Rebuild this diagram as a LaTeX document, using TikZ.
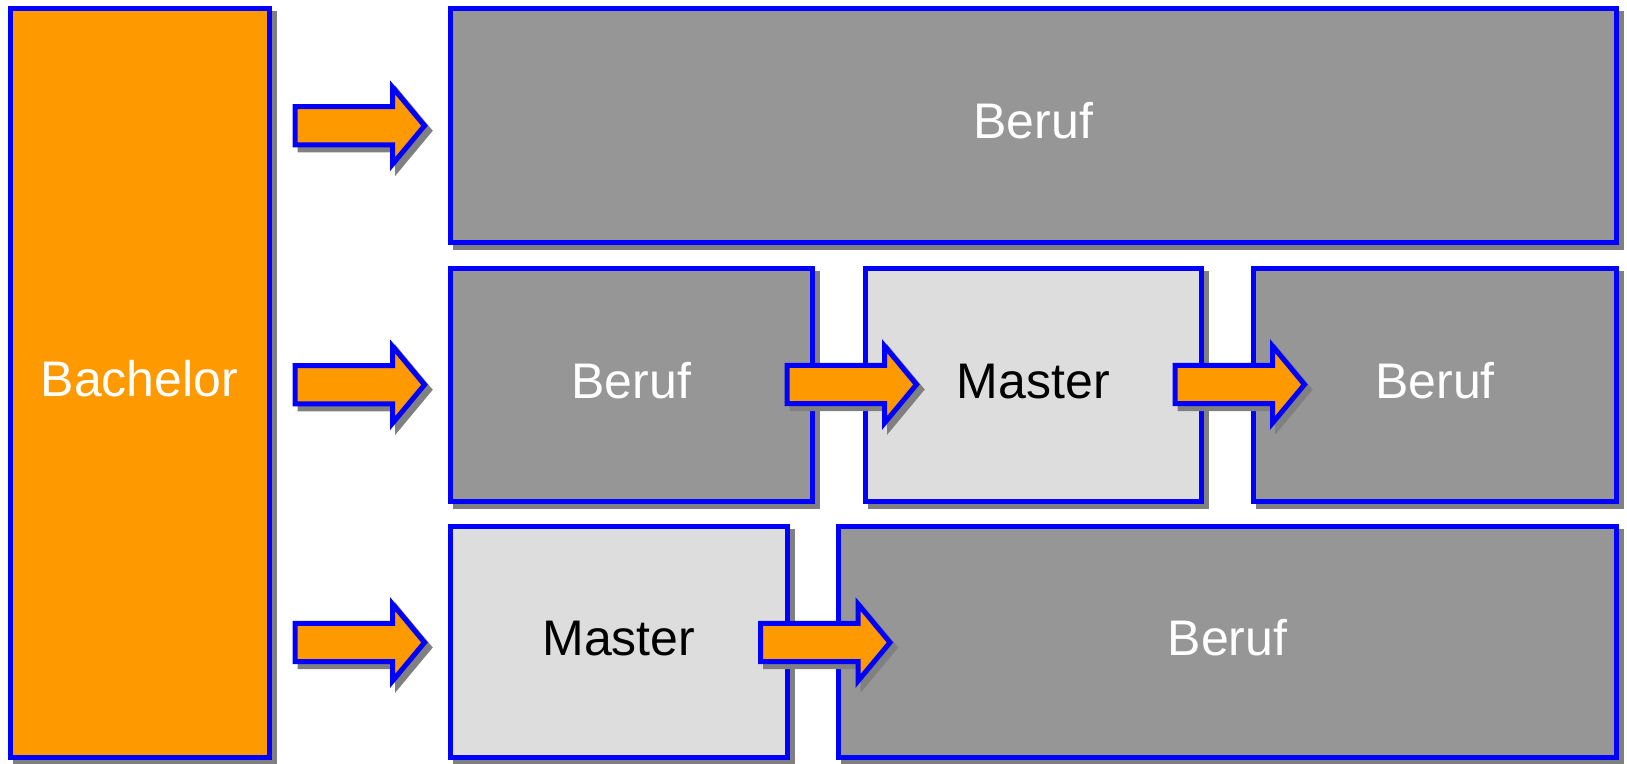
\documentclass[tikz,border=0pt]{standalone}
\usepackage{fontspec}
\setmainfont{Liberation Sans}
\usetikzlibrary{shadows}
\definecolor{borange}{HTML}{FF9900}
\definecolor{bdark}{HTML}{969696}
\definecolor{blight}{HTML}{DDDDDD}
\definecolor{bblue}{HTML}{0000FF}
\definecolor{bshadow}{HTML}{808080}
\begin{document}
\begin{tikzpicture}[x=1pt,y=-1pt,
  box/.style={rectangle, draw=bblue, line width=5pt, inner sep=0pt, outer sep=0pt,
    font=\fontsize{50}{60}\selectfont, text height=36pt, text depth=9pt,
    general shadow={fill=bshadow, draw=bshadow, line width=5pt, shadow xshift=5pt, shadow yshift=-5pt}},
  dark/.style={box, fill=bdark, text=white},
  light/.style={box, fill=blight, text=black},
  orangebox/.style={box, fill=borange, text=white},
  barrow/.pic={
    \path[fill=bshadow, draw=bshadow, line width=5pt, shift={(5,5)}]
      (-129.5,-19.2) -- (-32,-19.2) -- (-32,-38.5) -- (0,0) -- (-32,38.5) -- (-32,19.2) -- (-129.5,19.2) -- cycle;
    \path[fill=borange, draw=bblue, line width=5pt]
      (-129.5,-19.2) -- (-32,-19.2) -- (-32,-38.5) -- (0,0) -- (-32,38.5) -- (-32,19.2) -- (-129.5,19.2) -- cycle;
  }]
\useasboundingbox (0,0) rectangle (1627,763);
\node[orangebox, minimum width=259pt, minimum height=748.5pt] (bach) at (139.5,382.75) {Bachelor};
\node[dark, minimum width=1166.5pt, minimum height=233.5pt] (top) at (1033.25,125.25) {Beruf};
\node[dark, minimum width=362.5pt, minimum height=233.5pt] (r2a) at (631.25,384.75) {Beruf};
\node[light, minimum width=336.5pt, minimum height=233.5pt] (r2b) at (1033.25,384.75) {Master};
\node[dark, minimum width=363pt, minimum height=233.5pt] (r2c) at (1435,384.75) {Beruf};
\node[light, minimum width=337.5pt, minimum height=230.5pt] (r3a) at (618.75,641.75) {Master};
\node[dark, minimum width=778pt, minimum height=230.5pt] (r3b) at (1227.5,641.75) {Beruf};
\pic (a1) at (424.5,125.75) {barrow};
\pic (a2) at (424.5,384.75) {barrow};
\pic (a3) at (424.5,642.5) {barrow};
\pic (a4) at (916.5,384.5) {barrow};
\pic (a5) at (1304.5,384.5) {barrow};
\pic (a6) at (890,642.5) {barrow};
\end{tikzpicture}
\end{document}
